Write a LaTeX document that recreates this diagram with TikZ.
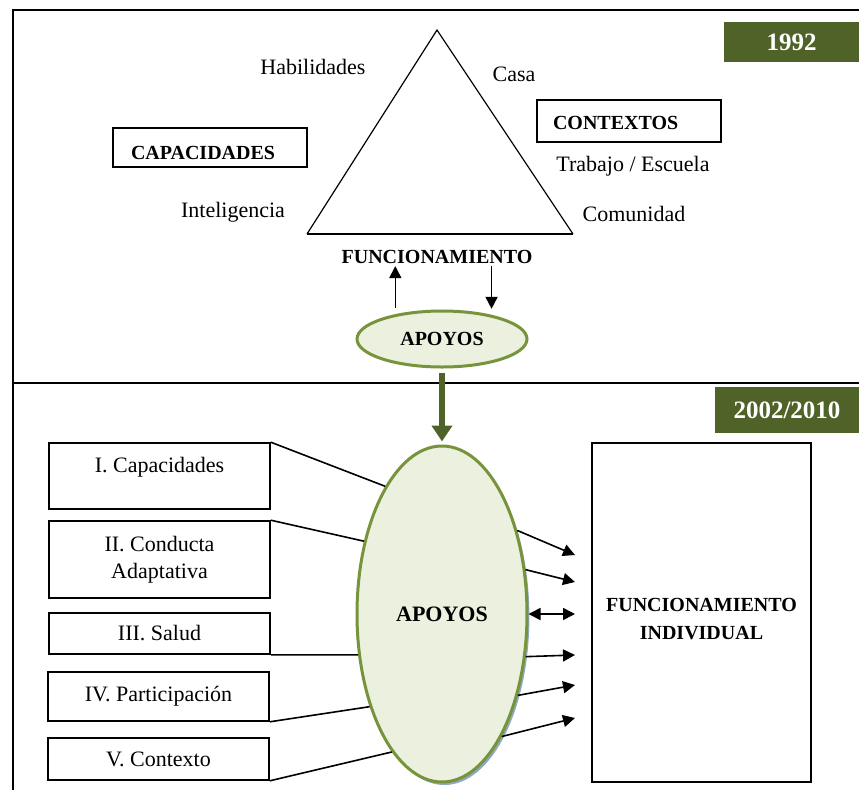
\documentclass[tikz,border=0pt]{standalone}
\usepackage{fontspec}
\setmainfont{Liberation Serif}
\usepackage{tikz}
\usetikzlibrary{shapes,arrows,positioning,calc,shadows,arrows.meta}

\definecolor{olivedark}{HTML}{4F6228}
\definecolor{olivebord}{HTML}{77933C}
\definecolor{olivefill}{HTML}{EBF1DE}
\definecolor{shadowblue}{HTML}{8EA9C1}

\begin{document}
\begin{tikzpicture}[x=0.5pt, y=-0.5pt,
    txt/.style={font=\fontsize{11}{13.5}\selectfont, inner sep=1pt},
    bold/.style={font=\fontsize{10}{14}\selectfont\bfseries, inner sep=1pt},
    dimbox/.style={draw, line width=0.8pt, minimum width=110.5pt, align=center, font=\fontsize{11}{13.5}\selectfont},
    yearbox/.style={fill=olivedark, text=white, font=\fontsize{12.5}{14}\selectfont\bfseries, inner sep=0pt},
    apoyo/.style={ellipse, draw=olivebord, line width=1.5pt, fill=olivefill, inner sep=0pt},
    tip/.style={line width=0.8pt, -{Triangle[length=6pt,width=6pt]}},
    tiptwo/.style={line width=0.8pt, {Triangle[length=6pt,width=6pt]}-{Triangle[length=6pt,width=6pt]}},
    link/.style={line width=0.8pt}]
    \useasboundingbox (0,0) rectangle (859,794);

    % frame
    \draw[line width=0.8pt] (859,10) -- (13,10) -- (13,790);
    \draw[line width=0.8pt] (13,383) -- (859,383);

    % 1992
    \node[yearbox, minimum width=67.5pt, minimum height=20pt] (y1992) at (791.5,42) {1992};

    \coordinate (apex) at (437,30);
    \coordinate (bl) at (307,234);
    \coordinate (br) at (573,234);
    \draw[line width=0.6pt] (bl) -- (apex) -- (br);
    \draw[line width=1.2pt] (bl) -- (br);

    \node[txt] (hab) at (313,67) {Habilidades};
    \node[txt] (intel) at (233,212) {Inteligencia};
    \node[txt] (casa) at (514,74) {Casa};
    \node[txt] (trab) at (633,166) {Trabajo / Escuela};
    \node[txt] (comu) at (634,214) {Comunidad};

    \node[draw, line width=0.8pt, bold, minimum width=97pt, minimum height=19.5pt, inner xsep=9pt, text width=79pt, align=left, text height=11.6pt, text depth=0pt] (capac) at (210,147.5) {CAPACIDADES};
    \node[draw, line width=0.8pt, bold, minimum width=92pt, minimum height=21pt, inner xsep=8pt, text width=76pt, align=left, text height=8pt, text depth=0pt] (contx) at (629,121) {CONTEXTOS};

    \node[bold] (func) at (437,257) {FUNCIONAMIENTO};
    \node[apoyo, bold, minimum width=85pt, minimum height=28pt] (apoyo) at (442,339) {APOYOS};
    \draw[tip, shorten <=3pt] (apoyo.152) -- (apoyo.152 |- func.south);
    \draw[tip, shorten >=3pt] (func.south -| apoyo.26) -- (apoyo.26);

    % 2002/2010
    \node[yearbox, minimum width=72pt, minimum height=23pt] (y2002) at (787,410) {2002/2010};

    \node[apoyo, bold, font=\fontsize{11}{14}\selectfont\bfseries, minimum width=85pt, minimum height=168pt,
          drop shadow={shadow xshift=1.2pt, shadow yshift=-1.5pt, fill=shadowblue, opacity=1}] (apoyos) at (442,614) {APOYOS};
    \draw[line width=3pt, olivedark, -{Triangle[length=8pt,width=10pt]}, shorten <=2pt, shorten >=1.5pt] (apoyo.south) -- (apoyos.north);

    \node[dimbox, minimum height=33pt, text depth=11.4pt] (dimI) at (159.5,476) {I. Capacidades};
    \node[dimbox, minimum height=38.5pt] (dimII) at (159.5,559.5) {II. Conducta\\Adaptativa};
    \node[dimbox, minimum height=20.5pt] (dimIII) at (159.5,633.5) {III. Salud};
    \node[dimbox, minimum height=24.5pt] (dimIV) at (158.5,696.5) {IV. Participación};
    \node[dimbox, minimum height=21pt] (dimV) at (158.5,759) {V. Contexto};

    \draw[link] (dimI.north east) -- (apoyos.114);
    \draw[link] (dimII.north east) -- (apoyos.137);
    \draw[link] (dimIII.south east) -- (apoyos.206);
    \draw[link] (dimIV.south east) -- (apoyos.232);
    \draw[link] (dimV.south east) -- (apoyos.250);

    \node[draw, line width=0.8pt, minimum width=109.5pt, minimum height=169.5pt, align=center, font=\fontsize{10}{14}\selectfont\bfseries] (indiv) at (701.5,612.5) {\rule{0pt}{13pt}FUNCIONAMIENTO\\INDIVIDUAL};

    \coordinate (t1) at (575,555);
    \coordinate (t2) at (575,582);
    \coordinate (t3) at (575,614);
    \coordinate (t4) at (575,655);
    \coordinate (t5) at (575,685);
    \coordinate (t6) at (575,718);
    \draw[tip] (apoyos.48) -- (t1);
    \draw[tip] (apoyos.28) -- (t2);
    \draw[tiptwo] (apoyos.east) -- (t3);
    \draw[tip] (apoyos.333) -- (t4);
    \draw[tip] (apoyos.313) -- (t5);
    \draw[tip] (apoyos.296) -- (t6);
\end{tikzpicture}
\end{document}
